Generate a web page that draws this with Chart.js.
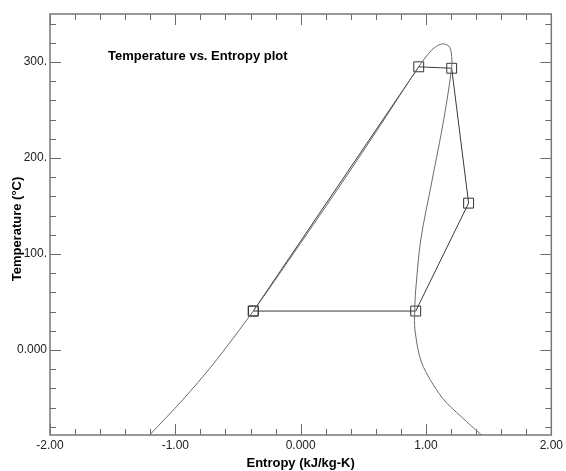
<!DOCTYPE html>
<html>
<head>
<meta charset="utf-8">
<script src="https://cdn.jsdelivr.net/npm/chart.js@4/dist/chart.umd.min.js"></script>
<style>
  html, body { margin: 0; padding: 0; background: #fff; }
  #wrap { width: 566px; height: 471px; }
</style>
</head>
<body>
<div id="wrap"><canvas id="tsChart" width="566" height="471"></canvas></div>
<script>
// saturation dome (liquid line up over the critical point, vapour line back down)
const domeS = [-1.205, -0.942, -0.70, -0.378, -0.10, 0.30, 0.60, 0.942, 1.046, 1.125, 1.181, 1.202, 1.205,
               1.141, 1.049, 0.958, 0.918, 0.910, 0.912, 0.966, 1.125, 1.284, 1.443];
const domeT = [-88.5, -52, -15, 40.6, 92.5, 168.5, 227, 295, 312.5, 318.8, 316.7, 309.4, 294.8,
               239.6, 177, 114.6, 62.5, 40.6, 20.8, -13.5, -49, -69.8, -88.5];

// cycle state points
const cycleS = [-0.378, 0.942, 1.205, 1.340, 0.918, -0.378];
const cycleT = [40.6, 295, 293.5, 153, 40.6, 40.6];

// axis ticks
const xTicks = [-2, -1, 0, 1, 2];
const xTickLabels = ['-2.00', '-1.00', '0.000', '1.00', '2.00'];
const yTicks = [0, 100, 200, 300];
const yTickLabels = ['0.000', '100.', '200.', '300.'];
const xRange = [-2, 2];
const yRange = [-88.5, 350];

const toPts = (xs, ys) => xs.map((x, i) => ({ x: x, y: ys[i] }));
const FONT = '"Liberation Sans", Arial, sans-serif';

// frame with inward tick marks on all four sides, caption and y title
const frameTicks = {
  id: 'frameTicks',
  afterDatasetsDraw(chart) {
    const { ctx, chartArea: a, scales: { x, y } } = chart;
    ctx.save();
    ctx.strokeStyle = '#6a6a6a';
    ctx.lineWidth = 1;
    ctx.beginPath();
    for (let v = -2; v <= 2.0001; v += 0.2) {
      const px = Math.round(x.getPixelForValue(v)) + 0.5;
      const len = Math.abs(v - Math.round(v)) < 1e-6 ? 11 : 6;
      ctx.moveTo(px, a.bottom); ctx.lineTo(px, a.bottom - len);
      ctx.moveTo(px, a.top); ctx.lineTo(px, a.top + len);
    }
    for (let v = -80; v <= 340; v += 20) {
      const py = Math.round(y.getPixelForValue(v)) + 0.5;
      const len = v % 100 === 0 ? 11 : 6;
      ctx.moveTo(a.left, py); ctx.lineTo(a.left + len, py);
      ctx.moveTo(a.right, py); ctx.lineTo(a.right - len, py);
    }
    ctx.stroke();
    ctx.lineWidth = 1.5;
    ctx.strokeStyle = '#777';
    ctx.strokeRect(a.left, a.top, a.right - a.left, a.bottom - a.top);

    ctx.fillStyle = '#000';
    ctx.font = 'bold 13px ' + FONT;
    ctx.textBaseline = 'alphabetic';
    ctx.textAlign = 'left';
    ctx.fillText('Temperature vs. Entropy plot', a.left + 58, a.top + 46);

    // rotated y axis title
    ctx.translate(17, 229);
    ctx.rotate(-Math.PI / 2);
    ctx.textAlign = 'center';
    ctx.textBaseline = 'middle';
    ctx.fillText('Temperature (°C)', 0, 0);
    ctx.restore();
  }
};

const tickFont = { family: FONT, size: 12 };
const titleFont = { family: FONT, size: 13, weight: 'bold' };

new Chart(document.getElementById('tsChart'), {
  type: 'scatter',
  data: {
    datasets: [
      {
        label: 'Saturation',
        data: toPts(domeS, domeT),
        showLine: true,
        borderColor: '#6b6b6b',
        borderWidth: 1,
        pointRadius: 0,
        tension: 0.3
      },
      {
        label: 'Cycle',
        data: toPts(cycleS, cycleT),
        showLine: true,
        borderColor: '#3a3a3a',
        borderWidth: 1,
        pointStyle: 'rect',
        pointRadius: 7,
        pointBackgroundColor: 'rgba(0,0,0,0)',
        pointBorderColor: '#333',
        pointBorderWidth: 1,
        tension: 0
      }
    ]
  },
  options: {
    responsive: false,
    animation: false,
    layout: { padding: { top: 14, right: 13, left: 0, bottom: 0 } },
    plugins: { legend: { display: false }, tooltip: { enabled: false } },
    scales: {
      x: {
        type: 'linear',
        min: xRange[0], max: xRange[1],
        grid: { display: false, drawTicks: false },
        border: { display: false },
        afterBuildTicks: s => { s.ticks = xTicks.map(v => ({ value: v })); },
        afterFit: s => { s.height = 36; },
        ticks: {
          autoSkip: false, maxRotation: 0, padding: 3,
          color: '#222', font: tickFont,
          callback: v => xTickLabels[xTicks.indexOf(v)]
        },
        title: {
          display: true, text: 'Entropy (kJ/kg-K)', color: '#000',
          font: titleFont, padding: { top: 0, bottom: 0 }
        }
      },
      y: {
        type: 'linear',
        min: yRange[0], max: yRange[1],
        grid: { display: false, drawTicks: false },
        border: { display: false },
        afterBuildTicks: s => { s.ticks = yTicks.map(v => ({ value: v })); },
        afterFit: s => { s.width = 50; },
        ticks: {
          autoSkip: false, padding: 3,
          color: '#222', font: tickFont,
          callback: v => yTickLabels[yTicks.indexOf(v)]
        }
      }
    }
  },
  plugins: [frameTicks]
});
</script>
</body>
</html>
